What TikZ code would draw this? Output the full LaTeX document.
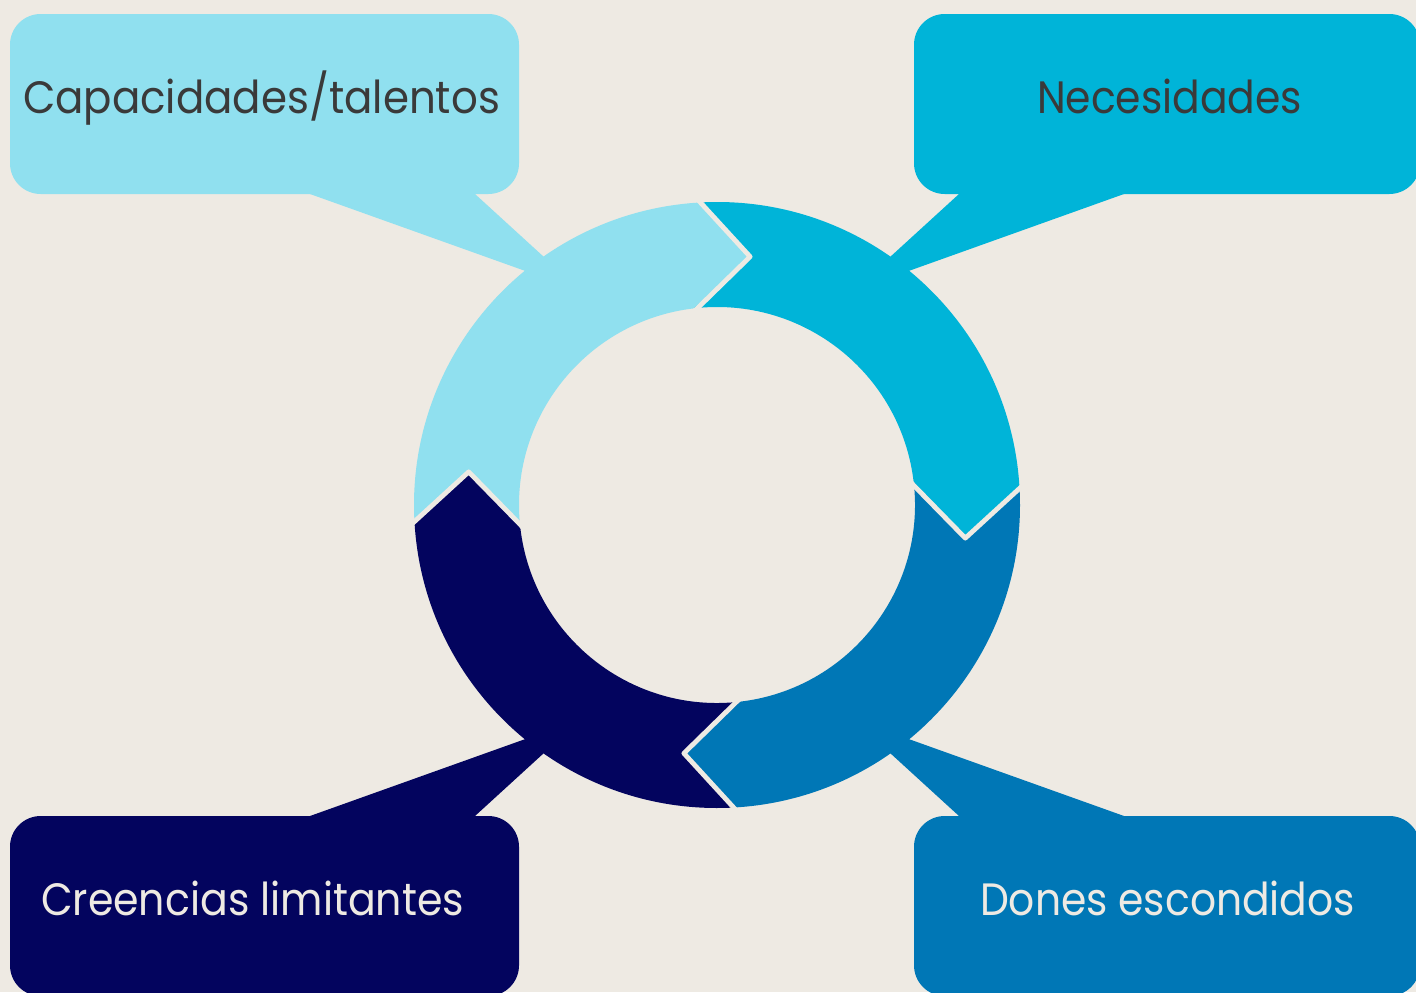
\documentclass[tikz,border=0pt]{standalone}
\usepackage{fontspec}
\setmainfont{Poppins}
\usetikzlibrary{calc}
\definecolor{bg}{HTML}{EEEAE3}
\definecolor{cA}{HTML}{90E0EF}
\definecolor{cB}{HTML}{00B4D8}
\definecolor{cC}{HTML}{0077B6}
\definecolor{cD}{HTML}{03045E}
\definecolor{txtdark}{HTML}{3A3A3A}
\newcommand\fitw[2]{\setbox0=\hbox{#2}\edef\fitnat{\the\wd0}\pgfmathsetmacro\fitratio{#1/\fitnat}\scalebox{\fitratio}[1]{\box0}}
\tikzset{
  bubble/.style={rounded corners=23pt},
  lbl/.style={anchor=base, inner sep=0pt, font=\fontsize{34}{40}\selectfont},
  gapline/.style={draw=bg, line width=3.6pt, line join=round}
}
\begin{document}
\begin{tikzpicture}[x=0.75pt,y=-0.75pt]
\useasboundingbox (0,0) rectangle (1416,992);
\clip (0,0) rectangle (1416,992);
\fill[bg] (0,0) rectangle (1416,992);
% callout tails
\fill[cA] (310,194) -- (545,278) -- (556,268) -- (475,194) -- cycle;
\fill[cB] (1124,194) -- (889,278) -- (878,268) -- (959,194) -- cycle;
\fill[cD] (310,816) -- (545,732) -- (556,742) -- (475,816) -- cycle;
\fill[cC] (1124,816) -- (889,732) -- (878,742) -- (959,816) -- cycle;
% boxes
\fill[cA,bubble] (10,14) rectangle (519,194);
\fill[cB,bubble] (914,14) rectangle (1420,194);
\fill[cD,bubble] (10,816) rectangle (519,996);
\fill[cC,bubble] (914,816) rectangle (1420,996);
% ring
\begin{scope}[shift={(717,505)}, x=0.75pt, y=0.75pt]
\def\Ro{303}\def\Ri{198}\def\Rm{250.5}
\foreach \k/\col in {0/cA,1/cB,2/cC,3/cD}{
  \pgfmathsetmacro\ho{93.6-90*\k}
  \pgfmathsetmacro\hi{96.7-90*\k}
  \pgfmathsetmacro\tp{82.4-90*\k}
  \pgfmathsetmacro\to{183.6-90*\k}
  \pgfmathsetmacro\ti{186.7-90*\k}
  \pgfmathsetmacro\tv{172.4-90*\k}
  \fill[\col] (\to:\Ro) arc[start angle=\to, end angle=\ho, radius=\Ro]
     -- (\tp:\Rm) -- (\hi:\Ri) arc[start angle=\hi, end angle=\ti, radius=\Ri]
     -- (\tv:\Rm) -- cycle;
}
\foreach \k in {0,1,2,3}{
  \pgfmathsetmacro\ho{93.6-90*\k}
  \pgfmathsetmacro\hi{96.7-90*\k}
  \pgfmathsetmacro\tp{82.4-90*\k}
  \draw[gapline] (\ho:\Ro+3) -- (\tp:\Rm) -- (\hi:\Ri-3);
}
\end{scope}
% labels
\node[lbl, text=txtdark] (capacidades) at (261.5,113) {\fitw{357.75pt}{Capacidades/talentos}};
\node[lbl, text=txtdark] (necesidades) at (1169.5,113) {\fitw{198.75pt}{Necesidades}};
\node[lbl, text=bg] (creencias) at (252.5,915) {\fitw{317.25pt}{Creencias limitantes}};
\node[lbl, text=bg] (dones) at (1167.5,915) {\fitw{281.25pt}{Dones escondidos}};
\end{tikzpicture}
\end{document}
